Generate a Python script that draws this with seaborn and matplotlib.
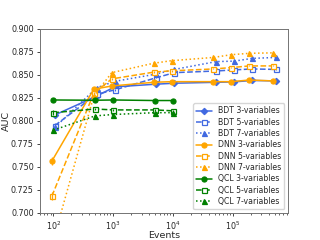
import numpy as np
import pandas as pd
import matplotlib
matplotlib.use("Agg")
import matplotlib.pyplot as plt
import seaborn as sns

# Number of training events
events = [100, 500, 1000, 5000, 10000, 50000, 100000, 200000, 500000]
events_qcl = [100, 500, 1000, 5000, 10000]

# AUC
bdt_3 = [0.8065, 0.827, 0.837, 0.840, 0.841, 0.842, 0.8425, 0.844, 0.8435]
bdt_5 = [0.795, 0.829, 0.8337, 0.847, 0.8525, 0.8543, 0.8555, 0.8565, 0.856]
bdt_7 = [0.793, 0.836, 0.843, 0.851, 0.856, 0.8645, 0.865, 0.868, 0.869]
dnn_3 = [0.7565, 0.8345, 0.838, 0.842, 0.8427, 0.8427, 0.8427, 0.8445, 0.8435]
dnn_5 = [0.7185, 0.830, 0.8457, 0.853, 0.8545, 0.8565, 0.858, 0.8598, 0.8598]
dnn_7 = [0.665, 0.827, 0.8525, 0.8627, 0.8655, 0.869, 0.872, 0.8735, 0.874]
qcl_3 = [0.8228, 0.8225, 0.8228, 0.8222, 0.8222]
qcl_5 = [0.809, 0.813, 0.812, 0.812, 0.811]
qcl_7 = [0.790, 0.8055, 0.807, 0.809, 0.809]

# small error bars
err_big = [0.004, 0.0015, 0.001, 0.0008, 0.0008, 0.0005, 0.0005, 0.0005, 0.0005]
err_small = [0.0025, 0.0012, 0.001, 0.0008, 0.0008, 0.0005, 0.0005, 0.0005, 0.0005]

sns.set_style("ticks")
plt.rcParams['font.family'] = ['DejaVu Sans']

fig = plt.figure(figsize=(3.2, 2.4), dpi=100)
ax = fig.add_axes([0.125, 0.1125, 0.776, 0.767])

series = [
    ("BDT 3-variables", events, bdt_3, err_small, "royalblue", "-", "D", 1.06),
    ("BDT 5-variables", events, bdt_5, err_small, "royalblue", "--", "s", 1.06),
    ("BDT 7-variables", events, bdt_7, err_small, "royalblue", ":", "^", 1.06),
    ("DNN 3-variables", events, dnn_3, err_big, "orange", "-", "o", 0.95),
    ("DNN 5-variables", events, dnn_5, err_big, "orange", "--", "s", 0.95),
    ("DNN 7-variables", events, dnn_7, err_big, "orange", ":", "^", 0.95),
    ("QCL 3-variables", events_qcl, qcl_3, err_small, "green", "-", "o", 1.0),
    ("QCL 5-variables", events_qcl, qcl_5, err_small, "green", "--", "s", 1.0),
    ("QCL 7-variables", events_qcl, qcl_7, err_small, "green", ":", "^", 1.0),
]

for label, xs, ys, err, col, ls, mk, shift in series:
    xs = np.array(xs) * shift
    mfc = "white" if mk == "s" else col
    ms = 3.2 if mk == "D" else 3.6
    sns.lineplot(x=xs, y=ys, ax=ax, color=col, linestyle=ls, marker=mk,
                 markersize=ms, mfc=mfc, mec=col, mew=0.9, lw=1.1, label=label)
    ax.errorbar(xs, ys, yerr=err[:len(ys)], fmt="none", ecolor=col, elinewidth=0.9)

ax.set_xscale("log")
ax.set_xlim(60, 8.5e5)
ax.set_ylim(0.700, 0.900)
ax.set_yticks([0.700, 0.725, 0.750, 0.775, 0.800, 0.825, 0.850, 0.875, 0.900])
ax.yaxis.set_major_formatter(matplotlib.ticker.FormatStrFormatter("%.3f"))
ax.tick_params(labelsize=5.8, length=2.5, width=0.6, pad=2)
ax.tick_params(which="minor", length=1.5, width=0.5)
ax.set_xlabel("Events", fontsize=6.8)
ax.set_ylabel("AUC", fontsize=6.8)
ax.xaxis.set_label_coords(0.5, -0.1)
ax.yaxis.set_label_coords(-0.118, 0.5)
for s in ax.spines.values():
    s.set_linewidth(0.7)
    s.set_color("0.45")

ax.legend(loc="lower right", fontsize=5.6, handlelength=2.0, labelspacing=0.3,
          borderpad=0.4, handletextpad=0.8, frameon=True)

fig.savefig("out.png", dpi=100)
